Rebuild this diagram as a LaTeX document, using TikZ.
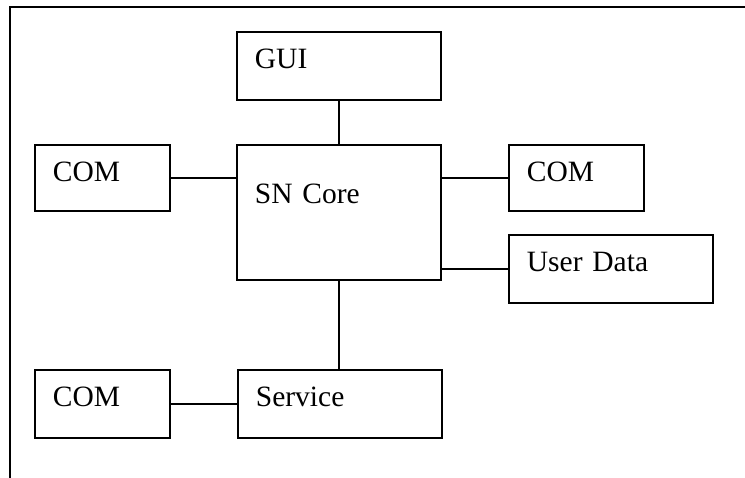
\documentclass[tikz,border=0pt]{standalone}
\usepackage{fontspec}
\setmainfont{Liberation Serif}
\usetikzlibrary{positioning}

\tikzset{
  block/.style n args={2}{draw, line width=1.8pt, anchor=north west,
    inner xsep=18pt, inner ysep=17pt, align=left,
    text width=#1pt-36pt, text height=20pt, text depth=#2pt-54pt},
  lowered/.style={text height=42pt, text depth=59pt},
  link/.style={line width=1.3pt},
}

\begin{document}
\begin{tikzpicture}[x=1pt,y=-1pt,font=\fontsize{29.5}{34}\selectfont]
\useasboundingbox (0,0) rectangle (745,478);

% outer frame, open to the right and bottom
\draw[line width=1.8pt] (10,480) |- (747,7);

% modules
\node[block={204}{68}] (gui) at (236,31) {GUI};
\node[block={204}{135}, lowered] (core) at (236,144) {SN Core};
\node[block={135}{66}] (comleft) at (34,144) {COM};
\node[block={135}{66}] (comright) at (508,144) {COM};
\node[block={204}{68}] (user) at (508,234) {User Data};
\node[block={135}{68}] (comlow) at (34,369) {COM};
\node[block={204}{68}] (service) at (237,369) {Service};

% links
\draw[link] (gui.south) -- (core.north);
\draw[link] (comleft.east) -- (comleft.east -| core.west);
\draw[link] (comright.west) -- (comright.west -| core.east);
\draw[link] (user.west) -- (user.west -| core.east);
\draw[link] (core.south) -- (core.south |- service.north);
\draw[link] (comlow.east) -- (service.west);
\end{tikzpicture}
\end{document}
